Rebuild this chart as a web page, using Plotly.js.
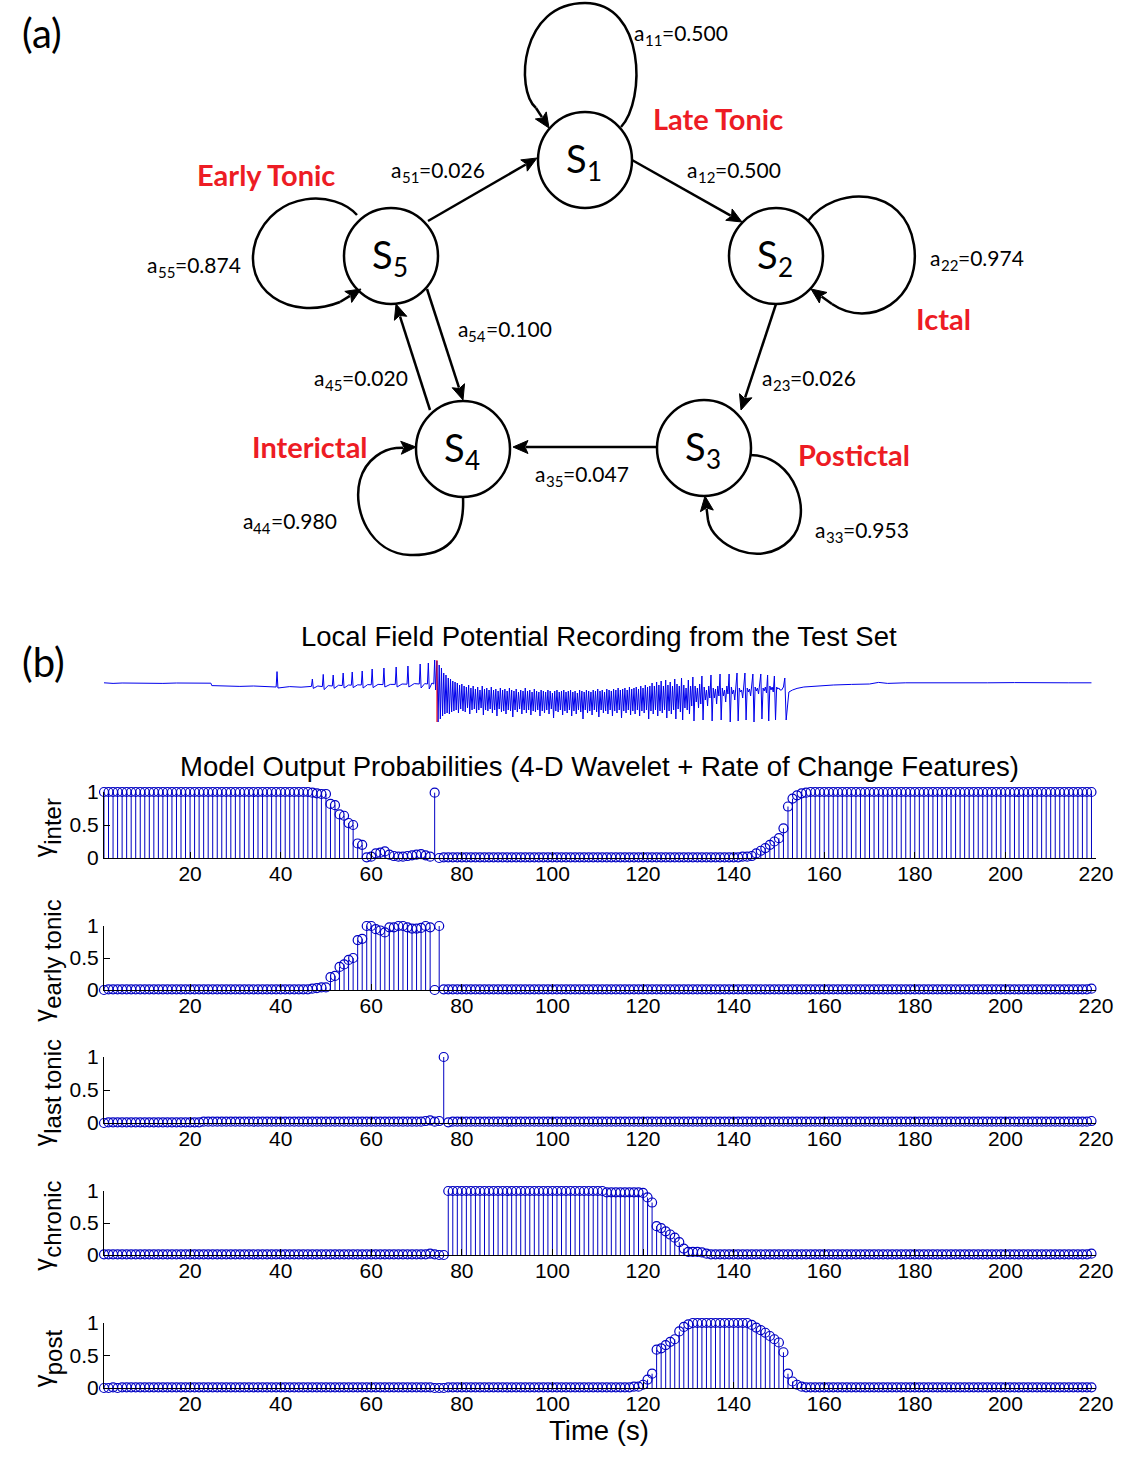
<!DOCTYPE html>
<html>
<head>
<meta charset="utf-8">
<script src="https://cdn.plot.ly/plotly-3.0.1.min.js"></script>
<style>
  body { margin: 0; background: #fff; }
  #chart { width: 1148px; height: 1464px; }
</style>
</head>
<body>
<div id="chart"></div>
<script>
// ---------- data ----------
// (a) transition probabilities of the 5-state model
const transitionLabels = ['11', '12', '51', '22', '55', '54', '45', '23', '35', '33', '44'];
const transitionProbs = [0.500, 0.500, 0.026, 0.974, 0.874, 0.100, 0.020, 0.026, 0.047, 0.953, 0.980];
const stateNames = ['Late Tonic', 'Ictal', 'Postictal', 'Interictal', 'Early Tonic'];

// (b) LFP recording (time in s, arbitrary units)
const preTime = [1, 3, 5, 8, 11, 14, 17, 20, 23, 24.6, 24.8, 28, 31, 34, 37, 39.0, 39.2, 39.4, 42, 44.5,
    46.8, 47.0, 47.2, 48.2, 49.2, 49.4, 49.6, 50.5, 51.4, 51.6, 51.8, 52.8, 53.6, 53.8, 54.0, 55.0,
    55.6, 55.8, 56.0, 57.0, 57.8, 58.0, 58.2, 59.2, 60.0, 60.2, 60.4, 61.5, 62.6, 62.8, 63.0, 64.2,
    65.3, 65.5, 65.7, 66.8, 67.9, 68.1, 68.3, 69.5, 70.6, 70.8, 71.0, 71.8, 72.4, 72.6, 72.8, 73.4,
    73.8, 74.0, 74.2];
const preValue = [0.06, 0.03, 0.05, 0.04, 0.06, 0.03, 0.05, 0.04, 0.05, 0.04, -0.08, -0.1, -0.12, -0.1, -0.14, -0.15, 0.62, -0.2, -0.13, -0.16,
    -0.12, 0.25, -0.22, -0.1, -0.13, 0.48, -0.28, -0.08, -0.1, 0.45, -0.22, -0.06, -0.08, 0.55, -0.2, -0.05,
    -0.06, 0.6, -0.18, -0.04, -0.05, 0.65, -0.2, -0.03, -0.04, 0.75, -0.18, -0.02, -0.03, 0.8, -0.15, -0.02,
    -0.02, 0.85, -0.15, 0, -0.01, 0.9, -0.15, 0.02, 0, 1.0, -0.2, 0.02, 0, 1.05, -0.25, 0.05,
    0, 1.2, -0.3];
// ictal part, sampled every 0.25 s from the onset
const ictalStart = 74.5;
const ictalStep = 0.25;
const ictalValue = [
    1.15, -1.9, 0.95, -1.75, 0.8, -1.6, 0.55, -1.5, 0.45, -1.45, 0.3, -1.5, 0.25, -1.4, 0.15, -1.35,
    0.1, -1.3, 0.05, -1.45, -0.05, -1.25, 0.0, -1.35, -0.1, -1.4, -0.15, -1.2, -0.05, -1.5, -0.2, -1.3,
    -0.1, -1.25, -0.25, -1.45, -0.15, -1.3, -0.3, -1.2, -0.1, -1.55, -0.25, -1.3, -0.2, -1.35, -0.3, -1.25,
    -0.15, -1.45, -0.3, -1.3, -0.25, -1.6, -0.35, -1.25, -0.2, -1.4, -0.3, -1.35, -0.25, -1.5, -0.35, -1.3,
    -0.2, -1.35, -0.3, -1.65, -0.35, -1.3, -0.25, -1.4, -0.4, -1.25, -0.3, -1.5, -0.35, -1.3, -0.2, -1.45,
    -0.35, -1.3, -0.3, -1.55, -0.4, -1.35, -0.25, -1.4, -0.35, -1.3, -0.4, -1.6, -0.3, -1.35, -0.35, -1.45,
    -0.4, -1.3, -0.3, -1.5, -0.35, -1.25, -0.45, -1.7, -0.35, -1.35, -0.3, -1.4, -0.4, -1.3, -0.35, -1.55,
    -0.3, -1.35, -0.4, -1.45, -0.35, -1.3, -0.3, -1.6, -0.4, -1.35, -0.35, -1.5, -0.45, -1.3, -0.3, -1.4,
    -0.35, -1.75, -0.4, -1.3, -0.3, -1.45, -0.35, -1.35, -0.4, -1.55, -0.3, -1.3, -0.35, -1.4, -0.25, -1.65,
    -0.35, -1.3, -0.3, -1.45, -0.4, -1.35, -0.25, -1.5, -0.3, -1.3, -0.35, -1.6, -0.25, -1.35, -0.3, -1.45,
    -0.2, -1.3, -0.3, -1.7, -0.25, -1.35, -0.2, -1.45, -0.3, -1.3, -0.15, -1.55, -0.25, -1.35, -0.2, -1.5,
    -0.15, -1.3, -0.25, -1.6, -0.1, -1.35, -0.2, -1.45, -0.05, -1.3, -0.15, -1.75, -0.1, -1.35, 0.05, -1.5,
    -0.1, -1.3, 0.1, -1.6, -0.05, -1.35, 0.15, -1.45, -0.1, -1.3, 0.2, -1.7, -0.05, -1.35, 0.1, -1.5,
    -0.1, -1.3, 0.25, -1.75, 0.0, -1.25, -0.1, -1.4, 0.3, -1.8, -0.05, -1.2, -0.2, -1.3, 0.2, -1.5,
    -0.1, -1.1, 0.35, -1.85, -0.1, -0.9, -0.2, -1.2, 0.0, -1.0, 0.4, -1.8, -0.15, -0.8, -0.3, -1.1,
    -0.1, -0.7, 0.45, -1.85, -0.2, -0.7, -0.25, -1.0, -0.1, -0.6, 0.5, -1.8, -0.2, -0.6, -0.3, -0.9,
    -0.1, -0.5, 0.5, -1.9, -0.15, -0.5, -0.3, -0.8, -0.1, 0.55, -1.85, -0.2, -0.4, -0.3, -0.7, -0.1,
    0.55, -1.8, -0.2, -0.4, -0.25, -0.6, -0.05, 0.5, -1.9, -0.15, -0.35, -0.2, -0.5, 0.0, 0.5, -1.75,
    -0.2, -0.35, -0.15, -0.45, 0.45, -1.85, -0.1, -0.3, -0.15, -0.4, 0.4, -1.8, -0.15, -0.25, -0.2, -0.3];
const postTime = [150.6, 151.0, 151.3, 151.6, 152.2, 153, 154, 155.5, 157, 159, 162, 166, 170, 172, 174, 178, 184, 190, 196, 202, 208, 214, 219];
const postValue = [-0.3, -0.15, 0.3, -1.8, -0.4, -0.3, -0.22, -0.15, -0.12, -0.08, -0.05, -0.02, 0.0, 0.08, 0.03, 0.06, 0.05, 0.07, 0.06, 0.07, 0.05, 0.06, 0.06];
const onsetTime = 74.5;

// model output probabilities, one value per second (1..219)
const gammaInter = [
    1, 1, 1, 1, 1, 1, 1, 1, 1, 1,
    1, 1, 1, 1, 1, 1, 1, 1, 1, 1,
    1, 1, 1, 1, 1, 1, 1, 1, 1, 1,
    1, 1, 1, 1, 1, 1, 1, 1, 1, 1,
    1, 1, 1, 1, 1, 1, .99, .98, .97, .97,
    .82, .8, .66, .64, .53, .5, .22, .2, .01, .02,
    .07, .08, .1, .05, .03, .02, .02, .03, .04, .05,
    .06, .04, .02, .99, 0, .01, .01, .01, .01, .01,
    .01, .01, .01, .01, .01, .01, .01, .01, .01, .01,
    .01, .01, .01, .01, .01, .01, .01, .01, .01, .01,
    .01, .01, .01, .01, .01, .01, .01, .01, .01, .01,
    .01, .01, .01, .01, .01, .01, .01, .01, .01, .01,
    .01, .01, .01, .01, .01, .01, .01, .01, .01, .01,
    .01, .01, .01, .01, .01, .01, .01, .01, .01, .01,
    .01, .02, .02, .03, .07, .11, .15, .2, .25, .3,
    .45, .78, .9, .95, .98, .99, 1, 1, 1, 1,
    1, 1, 1, 1, 1, 1, 1, 1, 1, 1,
    1, 1, 1, 1, 1, 1, 1, 1, 1, 1,
    1, 1, 1, 1, 1, 1, 1, 1, 1, 1,
    1, 1, 1, 1, 1, 1, 1, 1, 1, 1,
    1, 1, 1, 1, 1, 1, 1, 1, 1, 1,
    1, 1, 1, 1, 1, 1, 1, 1, 1];
const gammaEarlyTonic = [
    0, .01, .01, .01, .01, .01, .01, .01, .01, .01,
    .01, .01, .01, .01, .01, .01, .01, .01, .01, .01,
    .01, .01, .01, .01, .01, .01, .01, .01, .01, .01,
    .01, .01, .01, .01, .01, .01, .01, .01, .01, .01,
    .01, .01, .01, .01, .01, .01, .02, .03, .04, .04,
    .2, .22, .36, .4, .47, .5, .78, .8, 1, 1,
    .95, .93, .9, .98, .98, 1, 1, .98, .96, .96,
    .97, 1, .98, 0, 1, .01, .01, .01, .01, .01,
    .01, .01, .01, .01, .01, .01, .01, .01, .01, .01,
    .01, .01, .01, .01, .01, .01, .01, .01, .01, .01,
    .01, .01, .01, .01, .01, .01, .01, .01, .01, .01,
    .01, .01, .01, .01, .01, .01, .01, .01, .01, .01,
    .01, .01, .01, .01, .01, .01, .01, .01, .01, .01,
    .01, .01, .01, .01, .01, .01, .01, .01, .01, .01,
    .01, .01, .01, .01, .01, .01, .01, .01, .01, .01,
    .01, .01, .01, .01, .01, .01, .01, .01, .01, .01,
    .01, .01, .01, .01, .01, .01, .01, .01, .01, .01,
    .01, .01, .01, .01, .01, .01, .01, .01, .01, .01,
    .01, .01, .01, .01, .01, .01, .01, .01, .01, .01,
    .01, .01, .01, .01, .01, .01, .01, .01, .01, .01,
    .01, .01, .01, .01, .01, .01, .01, .01, .01, .01,
    .01, .01, .01, .01, .01, .01, .01, .01, .02];
const gammaLastTonic = [
    0, .01, .01, .01, .01, .01, .01, .01, .01, .01,
    .01, .01, .01, .01, .01, .01, .01, .01, .01, .01,
    .01, .01, .02, .02, .02, .02, .02, .02, .02, .02,
    .02, .02, .02, .02, .02, .02, .02, .02, .02, .02,
    .02, .02, .02, .02, .02, .02, .02, .02, .02, .02,
    .02, .02, .02, .02, .02, .02, .02, .02, .02, .02,
    .02, .02, .02, .02, .02, .02, .02, .02, .02, .02,
    .02, .03, .04, .02, .03, 1, .01, .02, .02, .02,
    .02, .02, .02, .02, .02, .02, .02, .02, .02, .02,
    .02, .02, .02, .02, .02, .02, .02, .02, .02, .02,
    .02, .02, .02, .02, .02, .02, .02, .02, .02, .02,
    .02, .02, .02, .02, .02, .02, .02, .02, .02, .02,
    .02, .02, .02, .02, .02, .02, .02, .02, .02, .02,
    .02, .02, .02, .02, .02, .02, .02, .02, .02, .02,
    .02, .02, .02, .02, .02, .02, .02, .02, .02, .02,
    .02, .02, .02, .02, .02, .02, .02, .02, .02, .02,
    .02, .02, .02, .02, .02, .02, .02, .02, .02, .02,
    .02, .02, .02, .02, .02, .02, .02, .02, .02, .02,
    .02, .02, .02, .02, .02, .02, .02, .02, .02, .02,
    .02, .02, .02, .02, .02, .02, .02, .02, .02, .02,
    .02, .02, .02, .02, .02, .02, .02, .02, .02, .02,
    .02, .02, .02, .02, .02, .02, .02, .02, .03];
const gammaChronic = [
    .01, .01, .01, .01, .01, .01, .01, .01, .01, .01,
    .01, .01, .01, .01, .01, .01, .01, .01, .01, .01,
    .01, .01, .01, .01, .01, .01, .01, .01, .01, .01,
    .01, .01, .01, .01, .01, .01, .01, .01, .01, .01,
    .01, .01, .01, .01, .01, .01, .01, .01, .01, .01,
    .01, .01, .01, .01, .01, .01, .01, .01, .01, .01,
    .01, .01, .01, .01, .01, .01, .01, .01, .01, .01,
    .01, .01, .02, .01, 0, 0, 1, 1, 1, 1,
    1, 1, 1, 1, 1, 1, 1, 1, 1, 1,
    1, 1, 1, 1, 1, 1, 1, 1, 1, 1,
    1, 1, 1, 1, 1, 1, 1, 1, 1, 1,
    1, .98, .98, .98, .98, .98, .98, .98, .98, .97,
    .9, .82, .45, .42, .37, .32, .27, .2, .1, .05,
    .05, .05, .04, .02, .01, .01, .01, .01, .01, .01,
    .01, .01, .01, .01, .01, .01, .01, .01, .01, .01,
    .01, .01, .01, .01, .01, .01, .01, .01, .01, .01,
    .01, .01, .01, .01, .01, .01, .01, .01, .01, .01,
    .01, .01, .01, .01, .01, .01, .01, .01, .01, .01,
    .01, .01, .01, .01, .01, .01, .01, .01, .01, .01,
    .01, .01, .01, .01, .01, .01, .01, .01, .01, .01,
    .01, .01, .01, .01, .01, .01, .01, .01, .01, .01,
    .01, .01, .01, .01, .01, .01, .01, .01, .02];
const gammaPost = [
    0, 0, .01, 0, .01, .01, .01, .01, .01, .01,
    .01, .01, .01, .01, .01, .01, .01, .01, .01, .01,
    .01, .01, .01, .01, .01, .01, .01, .01, .01, .01,
    .01, .01, .01, .01, .01, .01, .01, .01, .01, .01,
    .01, .01, .01, .01, .01, .01, .01, .01, .01, .01,
    .01, .01, .01, .01, .01, .01, .01, .01, .01, .01,
    .01, .01, .01, .01, .01, .01, .01, .01, .01, .01,
    .01, .01, .01, 0, 0, 0, .01, .01, .01, .01,
    .01, .01, .01, .01, .01, .01, .01, .01, .01, .01,
    .01, .01, .01, .01, .01, .01, .01, .01, .01, .01,
    .01, .01, .01, .01, .01, .01, .01, .01, .01, .01,
    .01, .01, .01, .01, .01, .01, .01, .02, .02, .05,
    .13, .22, .59, .61, .66, .71, .75, .87, .94, .98,
    1, 1, 1, 1, 1, 1, 1, 1, 1, 1,
    1, 1, 1, .97, .93, .89, .85, .8, .75, .7,
    .55, .22, .1, .05, .02, .01, .01, .01, .01, .01,
    .01, .01, .01, .01, .01, .01, .01, .01, .01, .01,
    .01, .01, .01, .01, .01, .01, .01, .01, .01, .01,
    .01, .01, .01, .01, .01, .01, .01, .01, .01, .01,
    .01, .01, .01, .01, .01, .01, .01, .01, .01, .01,
    .01, .01, .01, .01, .01, .01, .01, .01, .01, .01,
    .01, .01, .01, .01, .01, .01, .01, .01, .01];

const panelNames = ['inter', 'early tonic', 'last tonic', 'chronic', 'post'];
const panelSeries = [gammaInter, gammaEarlyTonic, gammaLastTonic, gammaChronic, gammaPost];
const xTicks = [20, 40, 60, 80, 100, 120, 140, 160, 180, 200, 220];

// ---------- layout helpers ----------
const W = 1148, H = 1464;
const fy = px => 1 - px / H;
const xDomain = [104 / W, 1096 / W];
const BLUE = 'rgb(0,0,195)';
const RED = 'rgb(237,28,36)';
const DIAG_FONT = 'Lato';
const PLOT_FONT = '"Liberation Sans"';

// stem panels: pixel rows for y=1 and y=0
const panelRows = [[792, 858], [926, 990], [1057, 1123], [1191, 1255], [1323, 1388]];

panelSeries.forEach((s, i) => {
    if (s.length !== 219) throw new Error('series ' + panelNames[i] + ' has ' + s.length + ' values');
});
if (preTime.length !== preValue.length || postTime.length !== postValue.length || ictalValue.length !== 304) {
    throw new Error('lfp arrays mismatch ' + ictalValue.length);
}

const data = [];
const layout = {
    width: W,
    height: H,
    margin: { l: 0, r: 0, t: 0, b: 0 },
    paper_bgcolor: 'white',
    plot_bgcolor: 'rgba(0,0,0,0)',
    showlegend: false,
    font: { family: PLOT_FONT, color: 'black', size: 21 },
    shapes: [],
    annotations: []
};

// text width, used to lay out subscripts piece by piece
const measureCtx = document.createElement('canvas').getContext('2d');
function measure(str, size, family) {
    measureCtx.font = size + 'px ' + family;
    return measureCtx.measureText(str).width;
}

// writes a label made of pieces (base text, subscript, ...) side by side
function richText(x, y, parts, family, align, rotated) {
    const widths = parts.map(p => measure(p.t, p.size, family));
    const total = widths.reduce((a, b) => a + b, 0);
    let off = align === 'center' ? -total / 2 : 0;
    parts.forEach((p, i) => {
        const mid = off + widths[i] / 2;
        const shift = p.shift || 0;
        layout.annotations.push({
            xref: 'x7', yref: 'y7',
            x: rotated ? x + shift : x + mid,
            y: rotated ? y - mid : y + shift,
            text: p.t, showarrow: false, xanchor: 'center', yanchor: 'middle',
            textangle: rotated ? -90 : 0, borderpad: 0,
            font: { family: family, size: p.size, color: 'black' }
        });
        off += widths[i];
    });
}

// LFP trace
const lfpTime = preTime.slice();
const lfpValue = preValue.slice();
ictalValue.forEach((v, i) => {
    lfpTime.push(ictalStart + i * ictalStep);
    lfpValue.push(v);
});
postTime.forEach((t, i) => {
    lfpTime.push(t);
    lfpValue.push(postValue[i]);
});
data.push({
    x: lfpTime, y: lfpValue, xaxis: 'x', yaxis: 'y',
    mode: 'lines', line: { color: 'rgb(0,0,235)', width: 1 }, hoverinfo: 'skip'
});
data.push({
    x: [onsetTime, onsetTime], y: [1.2, -1.9], xaxis: 'x', yaxis: 'y',
    mode: 'lines', line: { color: 'red', width: 1 }, hoverinfo: 'skip'
});
layout.xaxis = { domain: xDomain, range: [1, 220], visible: false, anchor: 'y' };
layout.yaxis = { domain: [fy(728), fy(650)], range: [-2.2, 1.7], visible: false, anchor: 'x' };

// pixel-space overlay for the diagram and titles
layout.xaxis7 = { domain: [0, 1], range: [0, W], visible: false, anchor: 'y7', fixedrange: true };
layout.yaxis7 = { domain: [0, 1], range: [H, 0], visible: false, anchor: 'x7', fixedrange: true };

// stem panels
panelSeries.forEach((values, i) => {
    const n = i + 2;
    const xa = 'x' + n, ya = 'y' + n;
    const t = values.map((v, k) => k + 1);
    const stemX = [], stemY = [];
    t.forEach((tt, k) => {
        stemX.push(tt, tt, null);
        stemY.push(0, values[k], null);
    });
    data.push({
        x: stemX, y: stemY, xaxis: xa, yaxis: ya, mode: 'lines',
        line: { color: BLUE, width: 1 }, hoverinfo: 'skip', cliponaxis: false
    });
    data.push({
        x: t, y: values, xaxis: xa, yaxis: ya, mode: 'markers',
        marker: { symbol: 'circle-open', size: 9, color: BLUE, line: { width: 1.2, color: BLUE } },
        cliponaxis: false
    });
    const [top, bottom] = panelRows[i];
    layout['xaxis' + n] = {
        domain: xDomain, range: [1, 220], anchor: ya,
        tickvals: xTicks, ticks: 'inside', ticklen: 6, tickcolor: 'black',
        showline: true, linecolor: 'black', linewidth: 1, ticklabelstandoff: -3,
        showgrid: false, zeroline: false, tickfont: { size: 21 }
    };
    layout['yaxis' + n] = {
        domain: [fy(bottom), fy(top)], range: [0, 1], anchor: xa,
        tickvals: [0, 0.5, 1], ticktext: ['0', '0.5', '1'],
        ticks: 'inside', ticklen: 6, tickcolor: 'black',
        showline: true, linecolor: 'black', linewidth: 1,
        showgrid: false, zeroline: false, tickfont: { size: 21 }
    };
    richText(43, (top + bottom) / 2 + 3,
        [{ t: 'γ', size: 25 }, { t: panelNames[i], size: 24, shift: 10 }], PLOT_FONT, 'center', true);
});

data.push({ x: [0], y: [0], xaxis: 'x7', yaxis: 'y7', mode: 'markers', marker: { opacity: 0 }, hoverinfo: 'skip' });

function text(x, y, str, opts) {
    layout.annotations.push(Object.assign({
        xref: 'x7', yref: 'y7', x: x, y: y, text: str, showarrow: false,
        xanchor: 'left', yanchor: 'middle',
        font: { family: DIAG_FONT, size: 21, color: 'black' }
    }, opts || {}));
}

// panel titles
text(20, 33, '(a)', { font: { family: DIAG_FONT, size: 40, color: 'black' } });
text(20, 662, '(b)', { font: { family: DIAG_FONT, size: 40, color: 'black' } });
text(599, 636, 'Local Field Potential Recording from the Test Set',
    { xanchor: 'center', font: { family: PLOT_FONT, size: 27.5, color: 'black' } });
text(599, 766, 'Model Output Probabilities (4-D Wavelet + Rate of Change Features)',
    { xanchor: 'center', font: { family: PLOT_FONT, size: 27.5, color: 'black' } });
text(599, 1430, 'Time (s)', { xanchor: 'center', font: { family: PLOT_FONT, size: 27.5, color: 'black' } });

// ---------- state diagram ----------
const nodeX = [585, 776, 704, 463, 391];
const nodeY = [160, 256, 448, 449, 256];
const R = 48;
const lineStyle = { color: 'black', width: 2.5 };

const loopPaths = [
    'M 621,127 C 646,100 645,3 585,3 C 520,3 515,90 536,108',
    'M 808,221 C 835,185 905,185 914,245 C 922,300 870,330 832,304',
    'M 750,455 C 795,455 815,515 790,540 C 760,570 712,545 708,520',
    'M 463,497 C 465,540 445,556 410,555 C 370,553 352,510 360,480 C 366,458 385,449 396,448',
    'M 357,215 C 335,190 275,190 256,240 C 240,290 290,322 340,302'
];
loopPaths.forEach(p => {
    layout.shapes.push({ type: 'path', xref: 'x7', yref: 'y7', path: p, line: lineStyle });
});
nodeX.forEach((cx, i) => {
    layout.shapes.push({
        type: 'circle', xref: 'x7', yref: 'y7',
        x0: cx - R + 1, x1: cx + R - 1, y0: nodeY[i] - R, y1: nodeY[i] + R,
        line: lineStyle, fillcolor: 'white'
    });
    richText(cx - 1, nodeY[i] - 2,
        [{ t: 'S', size: 38 }, { t: String(i + 1), size: 26, shift: 13 }], DIAG_FONT, 'center', false);
});

// arrows: [tailX, tailY, headX, headY], the last five finish the self-loops
const arrows = [
    [428, 221, 537, 158], [632, 160, 742, 222], [776, 304, 741, 410], [656, 447, 513, 447],
    [427, 289, 463, 400], [430, 410, 396, 304],
    [536, 108, 549, 128], [832, 304, 811, 289], [708, 520, 705, 496], [396, 448, 416, 447], [340, 302, 361, 289]
];
const HEAD_LEN = 15, HEAD_W = 13;
arrows.forEach(a => {
    const dx = a[2] - a[0], dy = a[3] - a[1];
    const len = Math.hypot(dx, dy);
    const ux = dx / len, uy = dy / len;
    const bx = a[2] - ux * HEAD_LEN, by = a[3] - uy * HEAD_LEN;
    const px = -uy * HEAD_W / 2, py = ux * HEAD_W / 2;
    layout.shapes.push({
        type: 'line', xref: 'x7', yref: 'y7',
        x0: a[0], y0: a[1], x1: bx + ux * 2, y1: by + uy * 2, line: lineStyle
    });
    layout.shapes.push({
        type: 'path', xref: 'x7', yref: 'y7',
        path: `M ${a[2]},${a[3]} L ${bx + px},${by + py} L ${bx + ux * 3},${by + uy * 3} L ${bx - px},${by - py} Z`,
        fillcolor: 'black', line: { color: 'black', width: 1 }
    });
});

// transition labels: left edge and middle of each label
const labelX = [634, 687, 391, 930, 147, 458, 314, 762, 535, 815, 243];
const labelY = [32, 169, 169, 257, 264, 328, 377, 377, 473, 529, 520];
transitionLabels.forEach((lab, i) => {
    richText(labelX[i], labelY[i], [
        { t: 'a', size: 21 },
        { t: lab, size: 15, shift: 8 },
        { t: '=' + transitionProbs[i].toFixed(3), size: 21 }
    ], DIAG_FONT, 'left', false);
});

// state names in red
const nameX = [651, 914, 796, 250, 195];
const nameY = [118, 318, 454, 446, 174];
stateNames.forEach((s, i) => {
    text(nameX[i], nameY[i], '<b>' + s + '</b>', { font: { family: DIAG_FONT, size: 29, color: RED } });
});

Plotly.newPlot('chart', data, layout, { staticPlot: true });
</script>
</body>
</html>
